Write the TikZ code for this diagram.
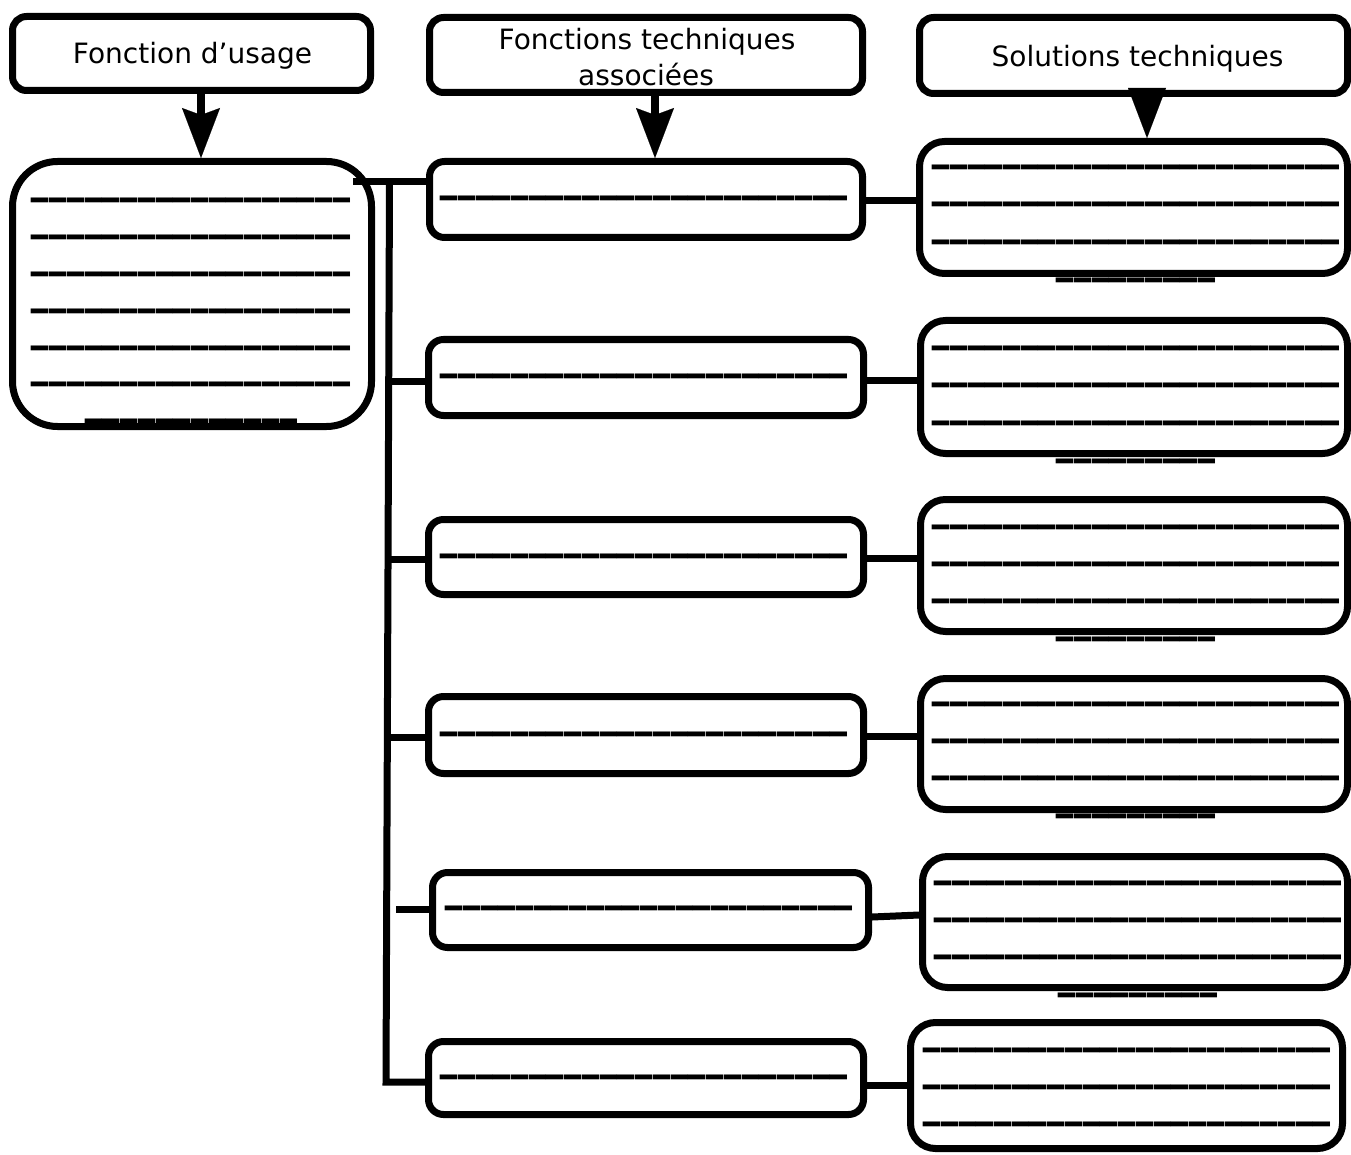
\documentclass[tikz,border=0pt]{standalone}
\usepackage{fontspec}
\setmainfont{DejaVu Sans}
\usetikzlibrary{arrows.meta}
\newcommand\USone{\scalebox{0.94}[1.95]{\textunderscore}\kern1.05pt}
\newcommand\USrep[1]{\ifnum#1>0 \USone\expandafter\USrep\expandafter{\the\numexpr#1-1\relax}\fi}
\newcommand\USline[1]{\USrep{#1}\kern-1.05pt}
\begin{document}
\begin{tikzpicture}[x=1pt,y=-1pt,
  box/.style={draw, line width=7pt, inner sep=0pt, outer sep=3.5pt},
  hdrtext/.style={font=\fontsize{28}{34}\selectfont, inner sep=0pt, anchor=base},
  uline/.style={font=\fontsize{35.5}{37}\selectfont, inner sep=0pt, anchor=base, yshift=14.2pt},
  conn/.style={line width=7pt},
  arr/.style={line width=8pt, -{Stealth[length=50pt,width=38pt,inset=7pt,line width=0.1pt]}},
  arrtri/.style={line width=1pt, -{Triangle[length=50pt,width=38pt,line width=0.1pt]}},
]
\useasboundingbox (0,0) rectangle (1351,1155);
% header boxes
\node[box, rounded corners=14pt, minimum width=358pt, minimum height=74pt] (H1) at (191.5,53.5) {};
\node[box, rounded corners=14pt, minimum width=433pt, minimum height=75pt] (H2) at (646,55) {};
\node[box, rounded corners=14pt, minimum width=428pt, minimum height=76pt] (H3) at (1133.5,55.5) {};
\node[hdrtext] (T1) at (192.5,64) {Fonction d’usage};
\node[hdrtext] (T2a) at (647,50) {Fonctions techniques};
\node[hdrtext] (T2b) at (646,85.5) {associées};
\node[hdrtext] (T3) at (1137.5,66.7) {Solutions techniques};
% left box
\node[box, rounded corners=45pt, minimum width=359pt, minimum height=265pt] (L) at (192,294) {};
% middle boxes
\node[box, rounded corners=15pt, minimum width=433pt, minimum height=76pt] (F1) at (646,199.5) {};
\node[box, rounded corners=15pt, minimum width=435pt, minimum height=76pt] (F2) at (646,377.5) {};
\node[box, rounded corners=15pt, minimum width=435pt, minimum height=75pt] (F3) at (646,557) {};
\node[box, rounded corners=15pt, minimum width=435pt, minimum height=77pt] (F4) at (646,735) {};
\node[box, rounded corners=15pt, minimum width=436pt, minimum height=75pt] (F5) at (650.5,910) {};
\node[box, rounded corners=15pt, minimum width=435pt, minimum height=73pt] (F6) at (646,1078) {};
% right boxes
\node[box, rounded corners=25pt, minimum width=428pt, minimum height=132pt] (S1) at (1133.5,207.5) {};
\node[box, rounded corners=25pt, minimum width=427pt, minimum height=133pt] (S2) at (1134,387) {};
\node[box, rounded corners=25pt, minimum width=427pt, minimum height=132pt] (S3) at (1134,565.5) {};
\node[box, rounded corners=25pt, minimum width=427pt, minimum height=131pt] (S4) at (1134,744) {};
\node[box, rounded corners=25pt, minimum width=425pt, minimum height=131pt] (S5) at (1135,922) {};
\node[box, rounded corners=25pt, minimum width=432pt, minimum height=126pt] (S6) at (1126.5,1085.5) {};
% underscore lines
\foreach \y [count=\i] in {201,238,275,312,349,385}
  \node[uline] (Lt\i) at (191,\y) {\USline{18}};
\node[uline] (Lt7) at (191,422) {\USline{12}};
\foreach \n/\x/\y in {1/644/199,2/644/377,3/644/557,4/644/735,5/649/909,6/644/1078}
  \node[uline] (Ft\n) at (\x,\y) {\USline{23}};
\foreach \n/\x/\y in {1/1136/168,2/1136/349,3/1136/527.5,4/1136/704.5,5/1138/883.5}{
  \node[uline] (St\n a) at (\x,\y) {\USline{23}};
  \node[uline] (St\n b) at (\x,\y+37) {\USline{23}};
  \node[uline] (St\n c) at (\x,\y+74.5) {\USline{23}};
  \node[uline] (St\n d) at (\x,\y+112.5) {\USline{9}};
}
\foreach \y [count=\i] in {1051,1088,1125}
  \node[uline] (St6\i) at (1127,\y) {\USline{23}};
% arrows
\draw[arr] (201,0 |- H1.south) -- (201,0 |- L.north);
\draw[arr] (655,0 |- H2.south) -- (655,0 |- F1.north);
\draw[arrtri] (1147,0 |- H3.south) -- (1147,0 |- S1.north);
% bus and branches
\coordinate (bStart) at (353,182);
\coordinate (bT) at (389.5,182);
\coordinate (bB) at (386,1082);
\coordinate (b2) at (388.7,381);
\coordinate (b3) at (388.3,559);
\coordinate (b4) at (387.9,737);
\coordinate (s5) at (396,909);
\draw[conn] (bStart) -- (bStart -| F1.west);
\draw[conn] (bT) -- (bB) -- (bB -| F6.west);
\draw[conn] (b2) -- (b2 -| F2.west);
\draw[conn] (b3) -- (b3 -| F3.west);
\draw[conn] (b4) -- (b4 -| F4.west);
\draw[conn] (s5) -- (s5 -| F5.west);
% right connectors
\draw[conn] (F1.east |- 0,200.5) -- (S1.west |- 0,200.5);
\draw[conn] (F2.east |- 0,380.5) -- (S2.west |- 0,380.5);
\draw[conn] (F3.east |- 0,558.5) -- (S3.west |- 0,558.5);
\draw[conn] (F4.east |- 0,736.5) -- (S4.west |- 0,736.5);
\draw[conn] (F5.east |- 0,917) -- (S5.west |- 0,915);
\draw[conn] (F6.east |- 0,1085) -- (S6.west |- 0,1085);
\end{tikzpicture}
\end{document}
